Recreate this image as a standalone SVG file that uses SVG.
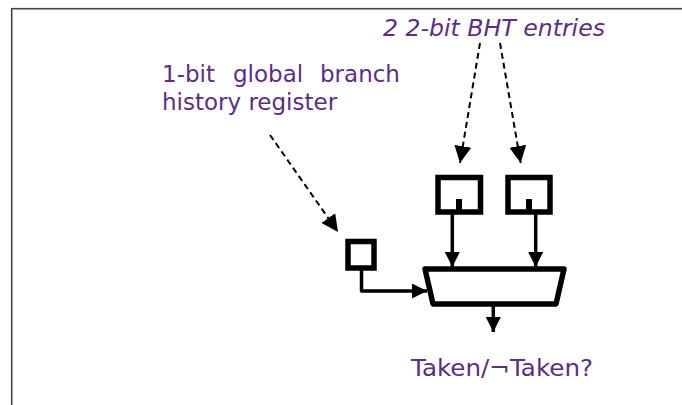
<svg xmlns="http://www.w3.org/2000/svg" width="682" height="405" viewBox="0 0 682 405">
<style>
.lbl{font-family:"DejaVu Sans","Verdana",sans-serif;font-size:23px;fill:#5B2D86}
.box{fill:#fff;stroke:#000;stroke-width:5.5}
.wire{fill:none;stroke:#000;stroke-width:3.5;stroke-linejoin:round}
.dash{fill:none;stroke:#000;stroke-width:2;stroke-dasharray:6 4}
</style>
<defs>
<marker id="ah" viewBox="0 0 10 10" refX="10" refY="5" markerWidth="15" markerHeight="15" markerUnits="userSpaceOnUse" orient="auto">
<path d="M0,0 L10,5 L0,10 z" fill="#000"/>
</marker>
<marker id="ahd" viewBox="0 0 10 10" refX="10" refY="5" markerWidth="17" markerHeight="17" markerUnits="userSpaceOnUse" orient="auto">
<path d="M0,0 L10,5 L0,10 z" fill="#000"/>
</marker>
</defs>
<rect x="11.7" y="8.7" width="680" height="410" fill="#fff" stroke="#444" stroke-width="1.6"/>
<g id="label-bht">
<text class="lbl" x="383" y="36" font-style="italic" textLength="222" lengthAdjust="spacingAndGlyphs">2 2-bit BHT entries</text>
</g>
<g id="label-ghr">
<text class="lbl" y="82"><tspan x="162">1-bit</tspan><tspan x="233">global</tspan><tspan x="320">branch</tspan></text>
<text class="lbl" x="162" y="110">history register</text>
</g>
<g id="label-out">
<text class="lbl" x="411" y="376" textLength="182" lengthAdjust="spacingAndGlyphs">Taken/¬Taken?</text>
</g>
<g id="ghr">
<rect class="box" x="348" y="241.5" width="26" height="26.5"/>
</g>
<g id="bht1">
<rect class="box" x="438" y="177.5" width="42.5" height="34.5"/>
<rect x="456" y="199" width="6" height="14" fill="#000"/>
</g>
<g id="bht2">
<rect class="box" x="508" y="177.5" width="42" height="34.5"/>
<rect x="526" y="199" width="6" height="14" fill="#000"/>
</g>
<g id="mux">
<path d="M425,269 L564,269 L556,304 L433,304 Z" fill="#fff" stroke="#000" stroke-width="5.5" stroke-linejoin="round"/>
</g>
<g id="connectors">
<path class="dash" d="M270,135 L338,232" marker-end="url(#ahd)"/>
<path class="dash" d="M480,43 L460,163" marker-end="url(#ahd)"/>
<path class="dash" d="M500,43 L520.7,163" marker-end="url(#ahd)"/>
<path class="wire" d="M361.5,270 L361.5,291 L427,291" marker-end="url(#ah)"/>
<path class="wire" d="M452.3,214 L452.3,267" marker-end="url(#ah)"/>
<path class="wire" d="M535.7,214 L535.7,267" marker-end="url(#ah)"/>
<path class="wire" d="M493.3,306 L493.3,332" marker-end="url(#ah)"/>
</g>
</svg>
